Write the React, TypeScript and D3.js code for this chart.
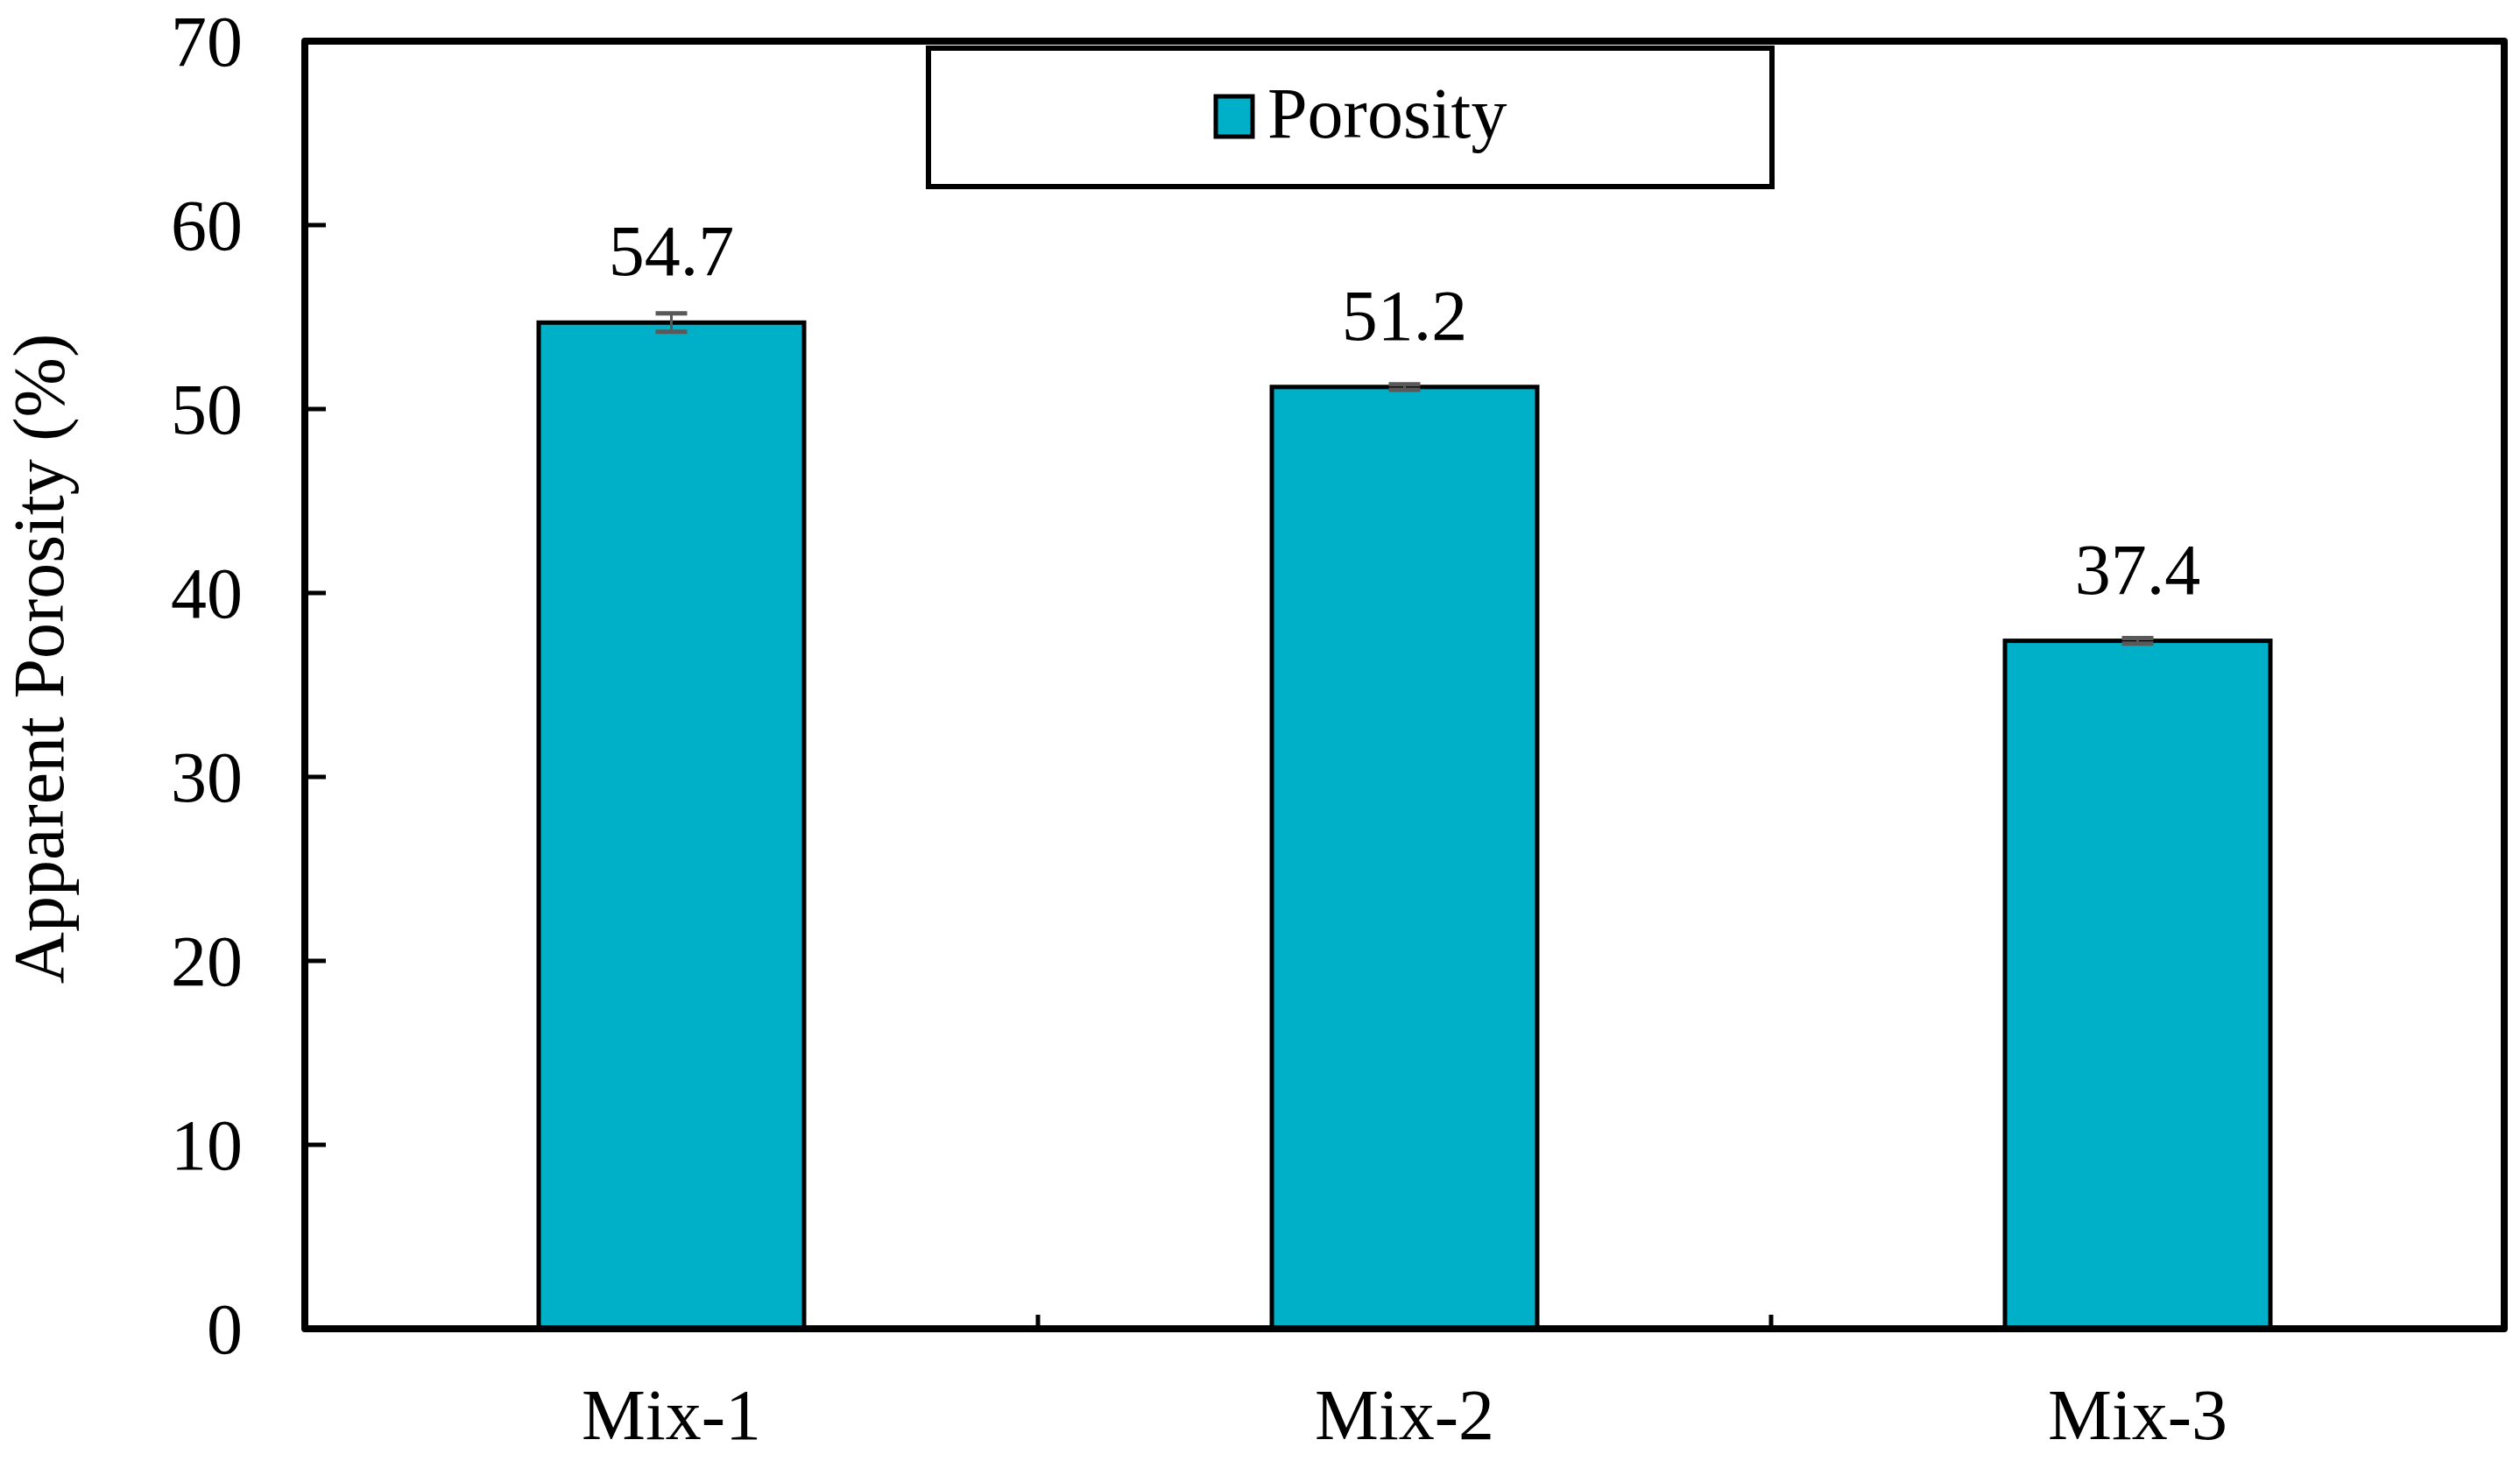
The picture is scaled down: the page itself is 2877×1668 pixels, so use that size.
import React from "react";
import * as d3 from "d3";

const categories = ["Mix-1", "Mix-2", "Mix-3"];
const porosity = [54.7, 51.2, 37.4];
const errors = [0.5, 0.15, 0.15];
const yTicks = [0, 10, 20, 30, 40, 50, 60, 70];
const seriesName = "Porosity";
const yTitle = "Apparent Porosity (%)";

const W = 2877;
const H = 1668;
const M = { left: 348, right: 2859, top: 47, bottom: 1517 };
const FILL = "#00AFC8";
const FONT = "'Liberation Serif', 'Times New Roman', serif";
const FS = 82;

export default function App() {
  const x = d3.scaleBand<string>().domain(categories).range([M.left, M.right]).paddingInner(0).paddingOuter(0);
  const y = d3.scaleLinear().domain([0, 70]).range([M.bottom, M.top]);
  const bw = x.bandwidth() * 0.362;
  const boundaries = categories.slice(1).map((c) => x(c) as number);

  return (
    <svg width={W} height={H} style={{ position: "absolute", left: 0, top: 0, background: "#fff" }} fontFamily={FONT}>
      <rect x={0} y={0} width={W} height={H} fill="#fff" />
      {/* bars */}
      {categories.map((c, i) => {
        const cx = (x(c) as number) + x.bandwidth() / 2;
        return (
          <g key={c}>
            <rect x={cx - bw / 2} y={y(porosity[i])} width={bw} height={y(0) - y(porosity[i])} fill={FILL} stroke="#000" strokeWidth={5} />
            <line x1={cx} x2={cx} y1={y(porosity[i] + errors[i])} y2={y(porosity[i] - errors[i])} stroke="#595959" strokeWidth={3} />
            <line x1={cx - 18} x2={cx + 18} y1={y(porosity[i] + errors[i])} y2={y(porosity[i] + errors[i])} stroke="#595959" strokeWidth={5} />
            <line x1={cx - 18} x2={cx + 18} y1={y(porosity[i] - errors[i])} y2={y(porosity[i] - errors[i])} stroke="#595959" strokeWidth={5} />
            <text x={cx} y={y(porosity[i]) - 54} textAnchor="middle" fontSize={FS} fill="#000">{porosity[i].toFixed(1)}</text>
            <text x={cx} y={1643} textAnchor="middle" fontSize={FS} fill="#000">{c}</text>
          </g>
        );
      })}
      {/* y ticks */}
      {yTicks.map((t) => (
        <g key={t}>
          {t > 0 && t < 70 && <line x1={M.left} x2={M.left + 24} y1={y(t)} y2={y(t)} stroke="#000" strokeWidth={5} />}
          <text x={277} y={y(t)} dy="0.34em" textAnchor="end" fontSize={FS} fill="#000">{t}</text>
        </g>
      ))}
      {/* x ticks */}
      {boundaries.map((b, i) => (
        <line key={i} x1={b} x2={b} y1={M.bottom} y2={M.bottom - 16} stroke="#000" strokeWidth={5} />
      ))}
      {/* frame */}
      <rect x={M.left} y={M.top} width={M.right - M.left} height={M.bottom - M.top} fill="none" stroke="#000" strokeWidth={8} strokeLinejoin="round" />
      {/* legend */}
      <rect x={1060} y={55} width={963} height={158} fill="#fff" stroke="#000" strokeWidth={6} />
      <rect x={1388} y={110} width={42} height={46} fill={FILL} stroke="#000" strokeWidth={5} />
      <text x={1447} y={157} fontSize={FS} fill="#000">{seriesName}</text>
      {/* y title */}
      <text transform={`translate(72, ${(M.top + M.bottom) / 2 - 30}) rotate(-90)`} textAnchor="middle" fontSize={FS} fill="#000">{yTitle}</text>
    </svg>
  );
}
